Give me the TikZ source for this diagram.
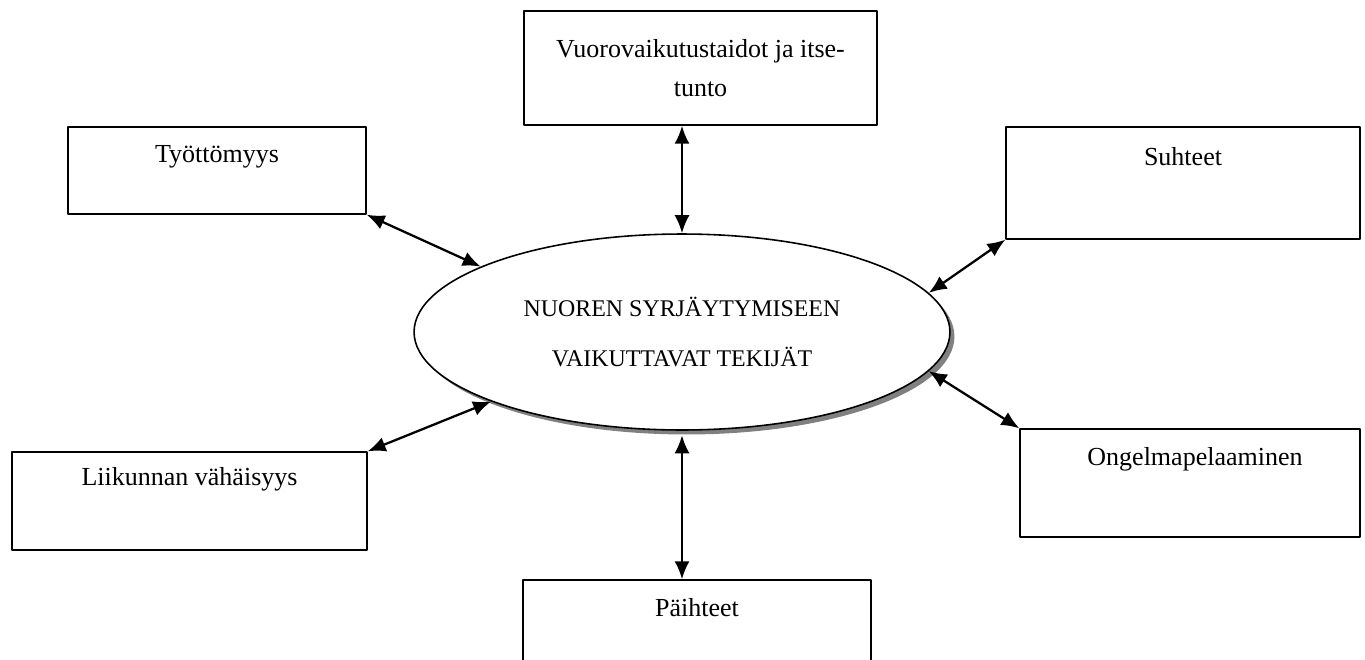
\documentclass[tikz,border=0pt]{standalone}
\usepackage{fontspec}
\setmainfont{Liberation Serif}
\usetikzlibrary{arrows.meta,shapes.geometric,shadows}

\tikzset{
  box/.style={draw, line width=0.8pt, inner sep=0pt},
  txt/.style={inner sep=0pt, font=\fontsize{14.8}{22.2}\selectfont, align=center},
  link/.style={{Latex[length=0.36cm,width=0.3cm]}-{Latex[length=0.36cm,width=0.3cm]}, line width=1.3pt},
}

\begin{document}
\begin{tikzpicture}[x=0.02cm, y=-0.02cm, line join=round]

  \useasboundingbox (0,0) rectangle (1365,659);
  \clip (0,0) rectangle (1365,659);

  % centre
  \node[ellipse, draw, line width=0.9pt, fill=white, inner sep=0pt,
        minimum width=10.72cm, minimum height=3.92cm,
        drop shadow={shadow xshift=0.09cm, shadow yshift=-0.09cm, fill=black!50, opacity=1},
        font=\fontsize{13.6}{28}\selectfont, align=center]
        (ell) at (682,332) {NUOREN SYRJÄYTYMISEEN\\VAIKUTTAVAT TEKIJÄT};

  % boxes
  \node[box, txt, minimum width=7.06cm, minimum height=2.28cm] (vuoro) at (700.5,68) {Vuorovaikutustaidot ja itse-\\tunto};
  \node[box, minimum width=5.96cm, minimum height=1.74cm] (tyott) at (217,170.5) {};
  \node[txt] (tyott-txt) at (217,157) {Työttömyys};
  \node[box, minimum width=7.08cm, minimum height=2.24cm] (suht) at (1183,183) {};
  \node[txt] (suht-txt) at (1183,157) {Suhteet};
  \node[box, minimum width=7.1cm, minimum height=1.96cm] (liik) at (189.5,501) {};
  \node[txt] (liik-txt) at (189.5,479) {Liikunnan vähäisyys};
  \node[box, minimum width=6.8cm, minimum height=2.16cm] (ong) at (1190,483) {};
  \node[txt] (ong-txt) at (1195,459) {Ongelmapelaaminen};
  \node[box, minimum width=6.96cm, minimum height=2.2cm] (paih) at (697,635) {};
  \node[txt] (paih-txt) at (697,608) {Päihteet};

  % arrows
  \draw[link] (vuoro.south -| ell.north) -- (ell.north);
  \draw[link] (tyott.south east) -- (ell.162.3);
  \draw[link] (suht.south west) -- (ell.9.6);
  \draw[link] (liik.north east) -- (ell.200.6);
  \draw[link] (ong.north west) -- (ell.351.7);
  \draw[link] ([yshift=-0.09cm]ell.south) -- (paih.north -| ell.south);

\end{tikzpicture}
\end{document}
